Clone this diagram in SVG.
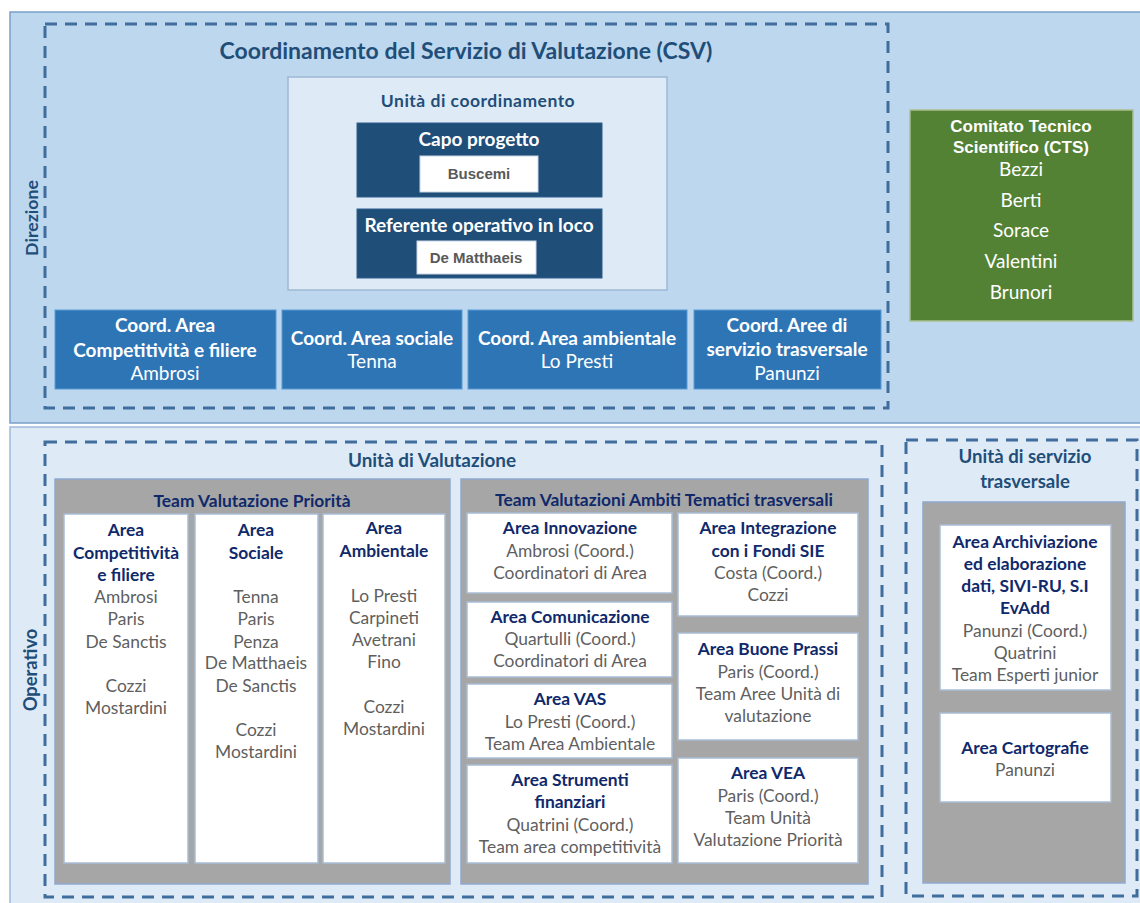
<svg xmlns="http://www.w3.org/2000/svg" width="1140" height="903" viewBox="0 0 1140 903">
<style>
.cal{font-family:Lato,"Open Sans","Liberation Sans",sans-serif}
.ari{font-family:"Liberation Sans",Arial,sans-serif}
.dash{fill:none;stroke:#3f6e9e;stroke-width:3;stroke-dasharray:12 8}
.coord{fill:#2e75b6;stroke:#5b9bd5;stroke-width:1}
.dark{fill:#1f4e79;stroke:#2e5f8e;stroke-width:1}
.wbox{fill:#ffffff;stroke:#a9bcd6;stroke-width:1.5}
.gray{fill:#a6a6a6;stroke:#8fa9cf;stroke-width:1.5}
.wt{fill:#ffffff;font-weight:bold;font-size:19px;text-anchor:middle}
.wn{fill:#ffffff;font-size:19px;text-anchor:middle}
.hd{fill:#1f4e79;font-weight:bold;text-anchor:middle}
.nv{fill:#10296b;font-weight:bold;font-size:17.4px;text-anchor:middle}
.gt{fill:#5f5f5f;font-size:17.4px;text-anchor:middle}
</style>
<g id="panel-direzione">
<rect x="10" y="12" width="1135" height="411" fill="#bdd7ee" stroke="#7aa0c8" stroke-width="1.5"/>
<text class="cal hd" x="38" y="218" font-size="17.7" transform="rotate(-90 38 218)">Direzione</text>
</g>
<g id="panel-operativo">
<rect x="10" y="427" width="1135" height="480" fill="#deebf7" stroke="#9dbbdc" stroke-width="1.5"/>
<text class="cal hd" x="37" y="670" font-size="18.4" transform="rotate(-90 37 670)">Operativo</text>
</g>
<g id="csv">
<rect class="dash" x="45" y="24" width="843" height="384"/>
<text class="cal hd" x="466" y="59" font-size="23">Coordinamento del Servizio di Valutazione (CSV)</text>
</g>
<g id="unita-coordinamento">
<rect x="288" y="77" width="379" height="213" fill="#deebf7" stroke="#9fb8d3" stroke-width="1.5"/>
<text class="cal hd" x="478" y="107" font-size="17.5" letter-spacing="0.5">Unità di coordinamento</text>
</g>
<g id="capo-progetto">
<rect class="dark" x="357" y="123" width="245" height="74"/>
<text class="cal wt" x="479" y="146">Capo progetto</text>
<rect x="420" y="156" width="118" height="36" fill="#fff" stroke="#c9d6e6"/>
<text class="ari" x="479" y="179" font-size="15" font-weight="bold" fill="#595959" text-anchor="middle">Buscemi</text>
</g>
<g id="referente">
<rect class="dark" x="357" y="209" width="245" height="69"/>
<text class="cal wt" x="479" y="232">Referente operativo in loco</text>
<rect x="417" y="241" width="119" height="33" fill="#fff" stroke="#c9d6e6"/>
<text class="ari" x="476" y="263" font-size="15" font-weight="bold" fill="#595959" text-anchor="middle">De Matthaeis</text>
</g>
<g id="coord-competitivita">
<rect class="coord" x="55" y="310" width="221" height="79"/>
<text class="cal wt" x="165" y="332">Coord. Area</text>
<text class="cal wt" x="165" y="357">Competitività e filiere</text>
<text class="cal wn" x="165" y="380">Ambrosi</text>
</g>
<g id="coord-sociale">
<rect class="coord" x="282" y="310" width="180" height="79"/>
<text class="cal wt" x="372" y="345">Coord. Area sociale</text>
<text class="cal wn" x="372" y="368">Tenna</text>
</g>
<g id="coord-ambientale">
<rect class="coord" x="468" y="310" width="219" height="79"/>
<text class="cal wt" x="577" y="345">Coord. Area ambientale</text>
<text class="cal wn" x="577" y="368">Lo Presti</text>
</g>
<g id="coord-trasversale">
<rect class="coord" x="694" y="310" width="187" height="79"/>
<text class="cal wt" x="787" y="332">Coord. Aree di</text>
<text class="cal wt" x="787" y="356">servizio trasversale</text>
<text class="cal wn" x="787" y="380">Panunzi</text>
</g>
<g id="cts">
<rect x="910" y="110" width="223" height="211" fill="#548235" stroke="#a9c08f" stroke-width="1.5"/>
<text class="ari" x="1021" y="132" font-size="17" font-weight="bold" fill="#fff" text-anchor="middle">Comitato Tecnico</text>
<text class="ari" x="1021" y="153" font-size="17" font-weight="bold" fill="#fff" text-anchor="middle">Scientifico (CTS)</text>
<text class="cal wn" x="1021" y="176">Bezzi</text>
<text class="cal wn" x="1021" y="207">Berti</text>
<text class="cal wn" x="1021" y="237">Sorace</text>
<text class="cal wn" x="1021" y="268">Valentini</text>
<text class="cal wn" x="1021" y="299">Brunori</text>
</g>
<g id="unita-valutazione">
<rect class="dash" x="45" y="442" width="837" height="455"/>
<text class="cal hd" x="432" y="467" font-size="18.9">Unità di Valutazione</text>
</g>
<g id="team-priorita">
<rect class="gray" x="55" y="479" width="395" height="405"/>
<text class="cal nv" x="252" y="507" font-size="17">Team Valutazione Priorità</text>
</g>
<g id="area-competitivita">
<rect class="wbox" x="64" y="514" width="124" height="349"/>
<text class="cal nv" x="126" y="536">Area</text>
<text class="cal nv" x="126" y="559">Competitività</text>
<text class="cal nv" x="126" y="581">e filiere</text>
<text class="cal gt" x="126" y="603">Ambrosi</text>
<text class="cal gt" x="126" y="625">Paris</text>
<text class="cal gt" x="126" y="648">De Sanctis</text>
<text class="cal gt" x="126" y="692">Cozzi</text>
<text class="cal gt" x="126" y="714">Mostardini</text>
</g>
<g id="area-sociale">
<rect class="wbox" x="195" y="514" width="123" height="349"/>
<text class="cal nv" x="256" y="536">Area</text>
<text class="cal nv" x="256" y="559">Sociale</text>
<text class="cal gt" x="256" y="603">Tenna</text>
<text class="cal gt" x="256" y="625">Paris</text>
<text class="cal gt" x="256" y="648">Penza</text>
<text class="cal gt" x="256" y="669">De Matthaeis</text>
<text class="cal gt" x="256" y="692">De Sanctis</text>
<text class="cal gt" x="256" y="736">Cozzi</text>
<text class="cal gt" x="256" y="758">Mostardini</text>
</g>
<g id="area-ambientale">
<rect class="wbox" x="323" y="514" width="122" height="349"/>
<text class="cal nv" x="384" y="534">Area</text>
<text class="cal nv" x="384" y="557">Ambientale</text>
<text class="cal gt" x="384" y="602">Lo Presti</text>
<text class="cal gt" x="384" y="624">Carpineti</text>
<text class="cal gt" x="384" y="646">Avetrani</text>
<text class="cal gt" x="384" y="668">Fino</text>
<text class="cal gt" x="384" y="713">Cozzi</text>
<text class="cal gt" x="384" y="735">Mostardini</text>
</g>
<g id="team-ambiti">
<rect class="gray" x="461" y="479" width="407" height="405"/>
<text class="cal nv" x="664" y="506" font-size="16.9">Team Valutazioni Ambiti Tematici trasversali</text>
</g>
<g id="area-innovazione">
<rect class="wbox" x="467" y="513" width="205" height="80"/>
<text class="cal nv" x="570" y="534">Area Innovazione</text>
<text class="cal gt" x="570" y="557">Ambrosi (Coord.)</text>
<text class="cal gt" x="570" y="579">Coordinatori di Area</text>
</g>
<g id="area-comunicazione">
<rect class="wbox" x="467" y="602" width="205" height="75"/>
<text class="cal nv" x="570" y="623">Area Comunicazione</text>
<text class="cal gt" x="570" y="645">Quartulli (Coord.)</text>
<text class="cal gt" x="570" y="667">Coordinatori di Area</text>
</g>
<g id="area-vas">
<rect class="wbox" x="467" y="684" width="205" height="74"/>
<text class="cal nv" x="570" y="705">Area VAS</text>
<text class="cal gt" x="570" y="728">Lo Presti (Coord.)</text>
<text class="cal gt" x="570" y="750">Team Area Ambientale</text>
</g>
<g id="area-strumenti">
<rect class="wbox" x="467" y="765" width="205" height="98"/>
<text class="cal nv" x="570" y="786">Area Strumenti</text>
<text class="cal nv" x="570" y="808">finanziari</text>
<text class="cal gt" x="570" y="831">Quatrini (Coord.)</text>
<text class="cal gt" x="570" y="853">Team area competitività</text>
</g>
<g id="area-integrazione">
<rect class="wbox" x="678" y="513" width="180" height="103"/>
<text class="cal nv" x="768" y="534">Area Integrazione</text>
<text class="cal nv" x="768" y="557">con i Fondi SIE</text>
<text class="cal gt" x="768" y="579">Costa (Coord.)</text>
<text class="cal gt" x="768" y="601">Cozzi</text>
</g>
<g id="area-buone-prassi">
<rect class="wbox" x="678" y="633" width="180" height="107"/>
<text class="cal nv" x="768" y="655">Area Buone Prassi</text>
<text class="cal gt" x="768" y="678">Paris (Coord.)</text>
<text class="cal gt" x="768" y="700">Team Aree Unità di</text>
<text class="cal gt" x="768" y="722">valutazione</text>
</g>
<g id="area-vea">
<rect class="wbox" x="678" y="758" width="180" height="105"/>
<text class="cal nv" x="768" y="779">Area VEA</text>
<text class="cal gt" x="768" y="802">Paris (Coord.)</text>
<text class="cal gt" x="768" y="824">Team Unità</text>
<text class="cal gt" x="768" y="846">Valutazione Priorità</text>
</g>
<g id="unita-servizio">
<rect class="dash" x="906" y="440" width="231" height="456"/>
<text class="cal hd" x="1025" y="463" font-size="18.6">Unità di servizio</text>
<text class="cal hd" x="1025" y="488" font-size="18.6">trasversale</text>
<rect class="gray" x="923" y="502" width="202" height="381"/>
</g>
<g id="area-archiviazione">
<rect class="wbox" x="940" y="525" width="171" height="165"/>
<text class="cal nv" x="1025" y="548">Area Archiviazione</text>
<text class="cal nv" x="1025" y="570">ed elaborazione</text>
<text class="cal nv" x="1025" y="592">dati, SIVI-RU, S.I</text>
<text class="cal nv" x="1025" y="614">EvAdd</text>
<text class="cal gt" x="1025" y="637">Panunzi (Coord.)</text>
<text class="cal gt" x="1025" y="659">Quatrini</text>
<text class="cal gt" x="1025" y="681">Team Esperti junior</text>
</g>
<g id="area-cartografie">
<rect class="wbox" x="940" y="713" width="171" height="89"/>
<text class="cal nv" x="1025" y="754">Area Cartografie</text>
<text class="cal gt" x="1025" y="776">Panunzi</text>
</g>
<g id="connectors"/>
</svg>
